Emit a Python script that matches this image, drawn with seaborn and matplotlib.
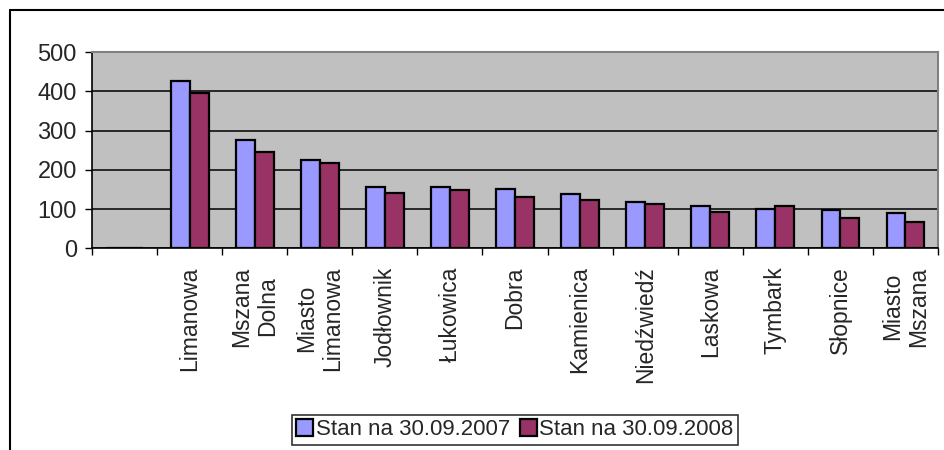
import matplotlib
matplotlib.use("Agg")
import matplotlib.pyplot as plt
from matplotlib.lines import Line2D
from matplotlib.ticker import FixedLocator
import seaborn as sns
import pandas as pd
import numpy as np

# Gminy (pierwsza kategoria bez nazwy)
gminy = ["", "Limanowa", "Mszana\nDolna", "Miasto\nLimanowa", "Jodłownik",
         "Łukowica", "Dobra", "Kamienica", "Niedźwiedź", "Laskowa",
         "Tymbark", "Słopnice", "Miasto\nMszana"]
stan_2007 = [1, 427, 277, 224, 157, 157, 151, 138, 119, 108, 100, 97, 91]
stan_2008 = [1, 395, 245, 217, 141, 148, 131, 123, 112, 93, 107, 77, 68]
serie = ["Stan na 30.09.2007", "Stan na 30.09.2008"]
kolory = ["#9999FF", "#993366"]
y_ticks = [0, 100, 200, 300, 400, 500]

df = pd.DataFrame({
    "gmina": gminy * 2,
    "wartosc": stan_2007 + stan_2008,
    "seria": [serie[0]] * len(gminy) + [serie[1]] * len(gminy),
})

sns.set_style("white")
plt.rcParams["font.family"] = ["Liberation Sans", "DejaVu Sans"]

fig = plt.figure(figsize=(9.45, 4.5), dpi=100)
ax = fig.add_axes([0.0974, 0.4478, 0.8952, 0.4366])
ax.set_facecolor("#C0C0C0")

sns.barplot(data=df, x="gmina", y="wartosc", hue="seria", order=gminy,
            hue_order=serie, palette=kolory, saturation=1, edgecolor="black",
            linewidth=1.6, width=0.58, ax=ax)

ax.set_ylim(0, 500)
ax.set_xlim(-0.5, len(gminy) - 0.5)
ax.set_yticks(y_ticks)
ax.set_yticklabels([str(t) for t in y_ticks], fontsize=17)
ax.yaxis.grid(True, color="black", linewidth=1.1)
ax.set_axisbelow(True)
ax.set_xlabel("")
ax.set_ylabel("")

# etykiety kategorii pionowo, znaczniki na granicach kategorii
ax.set_xticks(range(len(gminy)))
ax.set_xticklabels(gminy, rotation=90, fontsize=16.5, ha="center", va="top",
                   multialignment="center")
ax.tick_params(axis="x", which="major", length=0, pad=13)
ax.xaxis.set_minor_locator(FixedLocator(np.arange(-0.5, len(gminy), 1.0)))
ax.tick_params(axis="x", which="minor", bottom=True, length=5, width=1,
               color="black", direction="out")
ax.tick_params(axis="y", left=True, length=5, width=1, color="black",
               direction="out", pad=6)

for side in ["top", "right"]:
    ax.spines[side].set_color("#808080")
    ax.spines[side].set_linewidth(1.5)
for side in ["left", "bottom"]:
    ax.spines[side].set_color("black")
    ax.spines[side].set_linewidth(1.2)

handles, labels = ax.get_legend_handles_labels()
ax.legend_.remove()
leg = fig.legend(handles, labels, loc="center", bbox_to_anchor=(0.545, 0.045),
                 ncol=2, fontsize=16, frameon=True, fancybox=False,
                 edgecolor="black", handlelength=0.75, handleheight=0.75,
                 handletextpad=0.12, columnspacing=0.45, borderpad=0.2,
                 borderaxespad=0.0)
leg.get_frame().set_linewidth(1.2)

# ramka obszaru wykresu
fig.add_artist(Line2D([10 / 945, 10 / 945], [0, 1 - 10 / 450],
                      color="black", linewidth=1.5, transform=fig.transFigure))
fig.add_artist(Line2D([10 / 945, 1], [1 - 10 / 450, 1 - 10 / 450],
                      color="black", linewidth=1.5, transform=fig.transFigure))

fig.savefig("out.png", dpi=100)
